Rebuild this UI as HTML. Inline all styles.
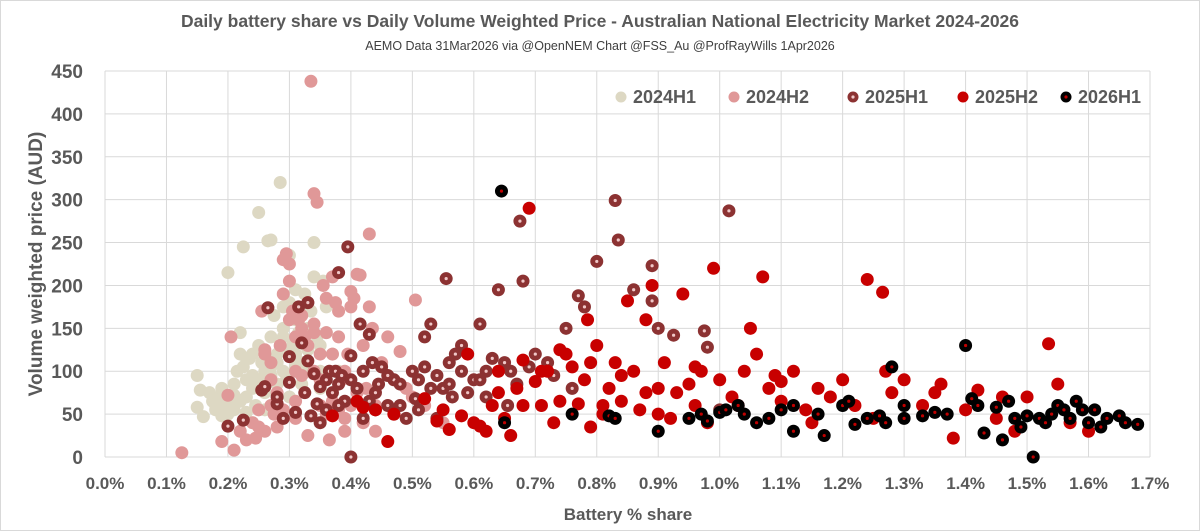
<!DOCTYPE html>
<html><head><meta charset="utf-8"><style>
body{margin:0;background:#fff;}
svg{display:block;font-family:"Liberation Sans",sans-serif;}
</style></head><body>
<svg id="chart" width="1200" height="531">
<rect x="0.5" y="0.5" width="1199" height="530" fill="#fff" stroke="#d9d9d9"/>
<text x="600" y="27" text-anchor="middle" font-size="17.5" font-weight="bold" fill="#595959">Daily battery share vs Daily Volume Weighted Price - Australian National Electricity Market 2024-2026</text>
<text x="600" y="50" text-anchor="middle" font-size="12.5" fill="#404040">AEMO Data 31Mar2026  via @OpenNEM Chart @FSS_Au @ProfRayWills 1Apr2026</text>
<g id="grid"></g>
<g id="axes"></g>
<g id="marks"></g>
<g id="legend"></g>
<text transform="translate(42,264) rotate(-90)" text-anchor="middle" font-size="19" font-weight="bold" fill="#595959">Volume  weighted price (AUD)</text>
<text x="628" y="520" text-anchor="middle" font-size="17" font-weight="bold" fill="#595959">Battery % share</text>
</svg>
<script>
const xTicks=[0,0.1,0.2,0.3,0.4,0.5,0.6,0.7,0.8,0.9,1.0,1.1,1.2,1.3,1.4,1.5,1.6,1.7];
const yTicks=[0,50,100,150,200,250,300,350,400,450];
const seriesNames=["2024H1","2024H2","2025H1","2025H2","2026H1"];
const s2024H1=[[0.15,95],[0.155,78],[0.15,58],[0.16,47],[0.17,75],[0.175,65],[0.18,55],[0.185,70],[0.19,62],[0.19,80],[0.20,215],[0.205,60],[0.21,72],[0.21,55],[0.215,100],[0.22,145],[0.22,120],[0.225,245],[0.225,105],[0.23,90],[0.23,70],[0.235,115],[0.24,95],[0.24,80],[0.245,60],[0.25,285],[0.25,130],[0.255,110],[0.26,75],[0.265,252],[0.27,253],[0.27,105],[0.275,165],[0.28,120],[0.285,320],[0.29,140],[0.29,100],[0.295,90],[0.30,180],[0.30,235],[0.305,130],[0.31,160],[0.31,195],[0.315,145],[0.32,110],[0.325,190],[0.33,125],[0.335,170],[0.34,250],[0.345,140],[0.35,130],[0.355,205],[0.36,145],[0.37,120],[0.38,100],[0.32,85],[0.28,85],[0.26,55],[0.24,40],[0.23,115],[0.33,150],[0.27,140],[0.29,175],[0.31,105],[0.30,70],[0.35,80],[0.18,60],[0.20,50],[0.22,65],[0.25,90],[0.27,95],[0.28,110],[0.30,125],[0.32,140],[0.26,100],[0.24,120],[0.29,150],[0.31,120],[0.33,100],[0.21,85],[0.23,52],[0.19,48],[0.35,100],[0.36,175],[0.34,210]];
const s2024H2=[[0.125,5],[0.19,18],[0.205,140],[0.21,8],[0.2,72],[0.22,30],[0.23,20],[0.24,40],[0.245,22],[0.25,55],[0.255,170],[0.26,120],[0.26,125],[0.27,90],[0.275,50],[0.28,35],[0.285,130],[0.29,190],[0.29,230],[0.295,237],[0.30,225],[0.30,205],[0.305,170],[0.31,140],[0.31,100],[0.315,160],[0.32,150],[0.325,140],[0.33,180],[0.335,438],[0.34,307],[0.345,297],[0.34,155],[0.35,120],[0.35,60],[0.355,200],[0.36,185],[0.36,145],[0.365,20],[0.37,210],[0.375,180],[0.38,170],[0.38,140],[0.385,90],[0.39,45],[0.395,120],[0.40,193],[0.40,175],[0.405,185],[0.41,213],[0.415,212],[0.42,130],[0.425,80],[0.43,260],[0.43,175],[0.435,150],[0.44,60],[0.45,110],[0.46,140],[0.47,90],[0.48,123],[0.49,80],[0.50,70],[0.505,183],[0.52,60],[0.54,45],[0.55,40],[0.33,25],[0.31,65],[0.28,75],[0.27,110],[0.37,65],[0.39,30],[0.42,40],[0.44,30],[0.26,30],[0.32,95],[0.29,55],[0.34,100],[0.36,50],[0.30,160],[0.32,165],[0.34,145],[0.37,120],[0.39,100],[0.41,75],[0.31,45],[0.27,60],[0.25,35],[0.38,55],[0.35,90],[0.40,60],[0.33,130]];
const s2025H1=[[0.2,36],[0.225,43],[0.255,78],[0.26,82],[0.265,174],[0.28,62],[0.28,70],[0.29,45],[0.30,117],[0.30,87],[0.31,52],[0.315,175],[0.32,133],[0.325,75],[0.33,112],[0.33,180],[0.335,48],[0.34,97],[0.345,62],[0.35,82],[0.36,55],[0.365,100],[0.37,75],[0.375,100],[0.38,215],[0.385,95],[0.39,65],[0.395,245],[0.40,118],[0.40,90],[0.41,80],[0.415,155],[0.42,45],[0.43,143],[0.435,110],[0.44,55],[0.445,85],[0.45,105],[0.46,60],[0.47,90],[0.48,85],[0.49,45],[0.50,100],[0.505,68],[0.51,90],[0.52,140],[0.53,155],[0.54,95],[0.55,80],[0.555,208],[0.56,110],[0.565,70],[0.58,130],[0.60,90],[0.61,155],[0.62,100],[0.64,195],[0.65,110],[0.655,60],[0.66,100],[0.675,275],[0.68,205],[0.69,105],[0.70,120],[0.72,110],[0.75,150],[0.77,188],[0.78,175],[0.80,228],[0.83,299],[0.835,253],[0.86,195],[0.89,223],[0.89,182],[0.90,150],[0.925,142],[0.975,147],[0.98,128],[1.015,287],[1.00,55],[0.59,75],[0.54,45],[0.47,50],[0.43,65],[0.38,85],[0.35,40],[0.52,105],[0.57,120],[0.62,70],[0.67,85],[0.73,95],[0.76,80],[0.40,0],[0.36,90],[0.38,60],[0.42,100],[0.44,75],[0.46,95],[0.48,60],[0.51,55],[0.53,80],[0.56,85],[0.58,100],[0.61,90],[0.63,115]];
const s2025H2=[[0.37,48],[0.41,65],[0.42,58],[0.44,55],[0.46,18],[0.47,50],[0.52,68],[0.54,42],[0.56,32],[0.58,48],[0.59,120],[0.60,40],[0.61,36],[0.62,30],[0.63,60],[0.64,100],[0.65,45],[0.66,25],[0.67,80],[0.68,113],[0.69,290],[0.70,88],[0.71,60],[0.72,100],[0.73,40],[0.74,65],[0.75,120],[0.76,105],[0.77,62],[0.78,90],[0.785,160],[0.79,35],[0.80,130],[0.81,50],[0.82,80],[0.83,110],[0.84,65],[0.85,182],[0.86,100],[0.87,55],[0.88,160],[0.89,200],[0.90,80],[0.91,110],[0.92,45],[0.93,75],[0.94,190],[0.95,85],[0.96,60],[0.97,100],[0.98,40],[0.99,220],[1.00,90],[1.02,70],[1.04,100],[1.05,150],[1.06,120],[1.07,210],[1.08,80],[1.10,65],[1.12,100],[1.14,55],[1.16,80],[1.18,70],[1.20,90],[1.22,60],[1.24,207],[1.25,45],[1.265,192],[1.28,75],[1.30,90],[1.33,60],[1.35,75],[1.38,22],[1.40,55],[1.42,78],[1.45,45],[1.48,30],[1.50,70],[1.535,132],[1.55,85],[1.57,40],[1.60,30],[0.81,60],[0.71,100],[0.64,75],[0.55,55],[0.9,50],[1.1,88],[1.15,40],[1.27,100],[1.36,85],[1.46,70],[0.68,60],[0.74,125],[0.79,110],[0.84,95],[0.88,75],[0.96,105],[1.03,60],[1.09,95]];
const s2026H1=[[0.645,310],[0.65,40],[0.76,50],[0.82,48],[0.83,45],[0.90,30],[0.95,45],[0.97,50],[0.98,42],[1.00,52],[1.01,55],[1.03,60],[1.04,50],[1.06,40],[1.08,45],[1.10,55],[1.12,60],[1.16,50],[1.17,25],[1.20,60],[1.21,65],[1.22,38],[1.24,45],[1.26,48],[1.27,40],[1.28,105],[1.30,45],[1.33,48],[1.35,52],[1.37,50],[1.40,130],[1.41,68],[1.42,60],[1.43,28],[1.45,58],[1.46,20],[1.47,65],[1.48,45],[1.49,35],[1.50,48],[1.51,0],[1.52,45],[1.53,40],[1.54,50],[1.55,60],[1.56,55],[1.57,45],[1.58,65],[1.59,55],[1.60,40],[1.61,55],[1.62,35],[1.63,45],[1.65,48],[1.66,40],[1.68,38],[1.12,30],[1.3,60]];

const NS="http://www.w3.org/2000/svg";
const X0=105,X1=1150,Y0=457,Y1=71;
const xs=v=>X0+(v/1.7)*(X1-X0);
const ys=v=>Y0-(v/450)*(Y0-Y1);
function mk(tag,attrs,parent){const e=document.createElementNS(NS,tag);for(const k in attrs)e.setAttribute(k,attrs[k]);parent.appendChild(e);return e;}
const grid=document.getElementById('grid'),axes=document.getElementById('axes'),marks=document.getElementById('marks'),legend=document.getElementById('legend');
xTicks.forEach(t=>{
 const l=mk('line',{x1:xs(t),x2:xs(t),y1:Y1,y2:Y0,stroke:'#d9d9d9','stroke-width':1},grid);
 
 
 const tx=mk('text',{x:xs(t),y:Y0+32,'text-anchor':'middle','font-size':17,'font-weight':'bold',fill:'#595959'},axes);
 tx.textContent=t.toFixed(1)+'%';
 
 
});
yTicks.forEach(t=>{
 const l=mk('line',{x1:X0,x2:X1,y1:ys(t),y2:ys(t),stroke:'#d9d9d9','stroke-width':1},grid);
 
 
 const tx=mk('text',{x:X0-22,y:ys(t)+7,'text-anchor':'end','font-size':19,'font-weight':'bold',fill:'#595959'},axes);
 tx.textContent=t;
 
 
});
const styles=[
 {fill:'#ddd8c3',dot:null},
 {fill:'#e09898',dot:null},
 {fill:'#8c3232',dot:'#f0c8c8'},
 {fill:'#c80000',dot:null},
 {fill:'#000000',dot:'#c00000'}];
const allSeries=[s2024H1,s2024H2,s2025H1,s2025H2,s2026H1];
function marker(parent,x,y,st,r){
 const c=mk('circle',{cx:x,cy:y,r:r,fill:st.fill},parent);
 if(st.dot){mk('circle',{cx:x,cy:y,r:1.6,fill:st.dot},parent);}
 return c;
}
allSeries.forEach((s,i)=>{
 const g=mk('g',{},marks);
 
 
 s.forEach(p=>{
  const c=marker(g,xs(p[0]),ys(p[1]),styles[i],6.5);
  
  
 });
});
const lx=[621,734,853,963,1066];
seriesNames.forEach((n,i)=>{
 const g=mk('g',{},legend);
 
 
 marker(g,lx[i],97,styles[i],5.5);
 const t=mk('text',{x:lx[i]+12,y:103,'font-size':18,'font-weight':'bold',fill:'#595959'},g);
 t.textContent=n;
});
</script>
</body></html>
